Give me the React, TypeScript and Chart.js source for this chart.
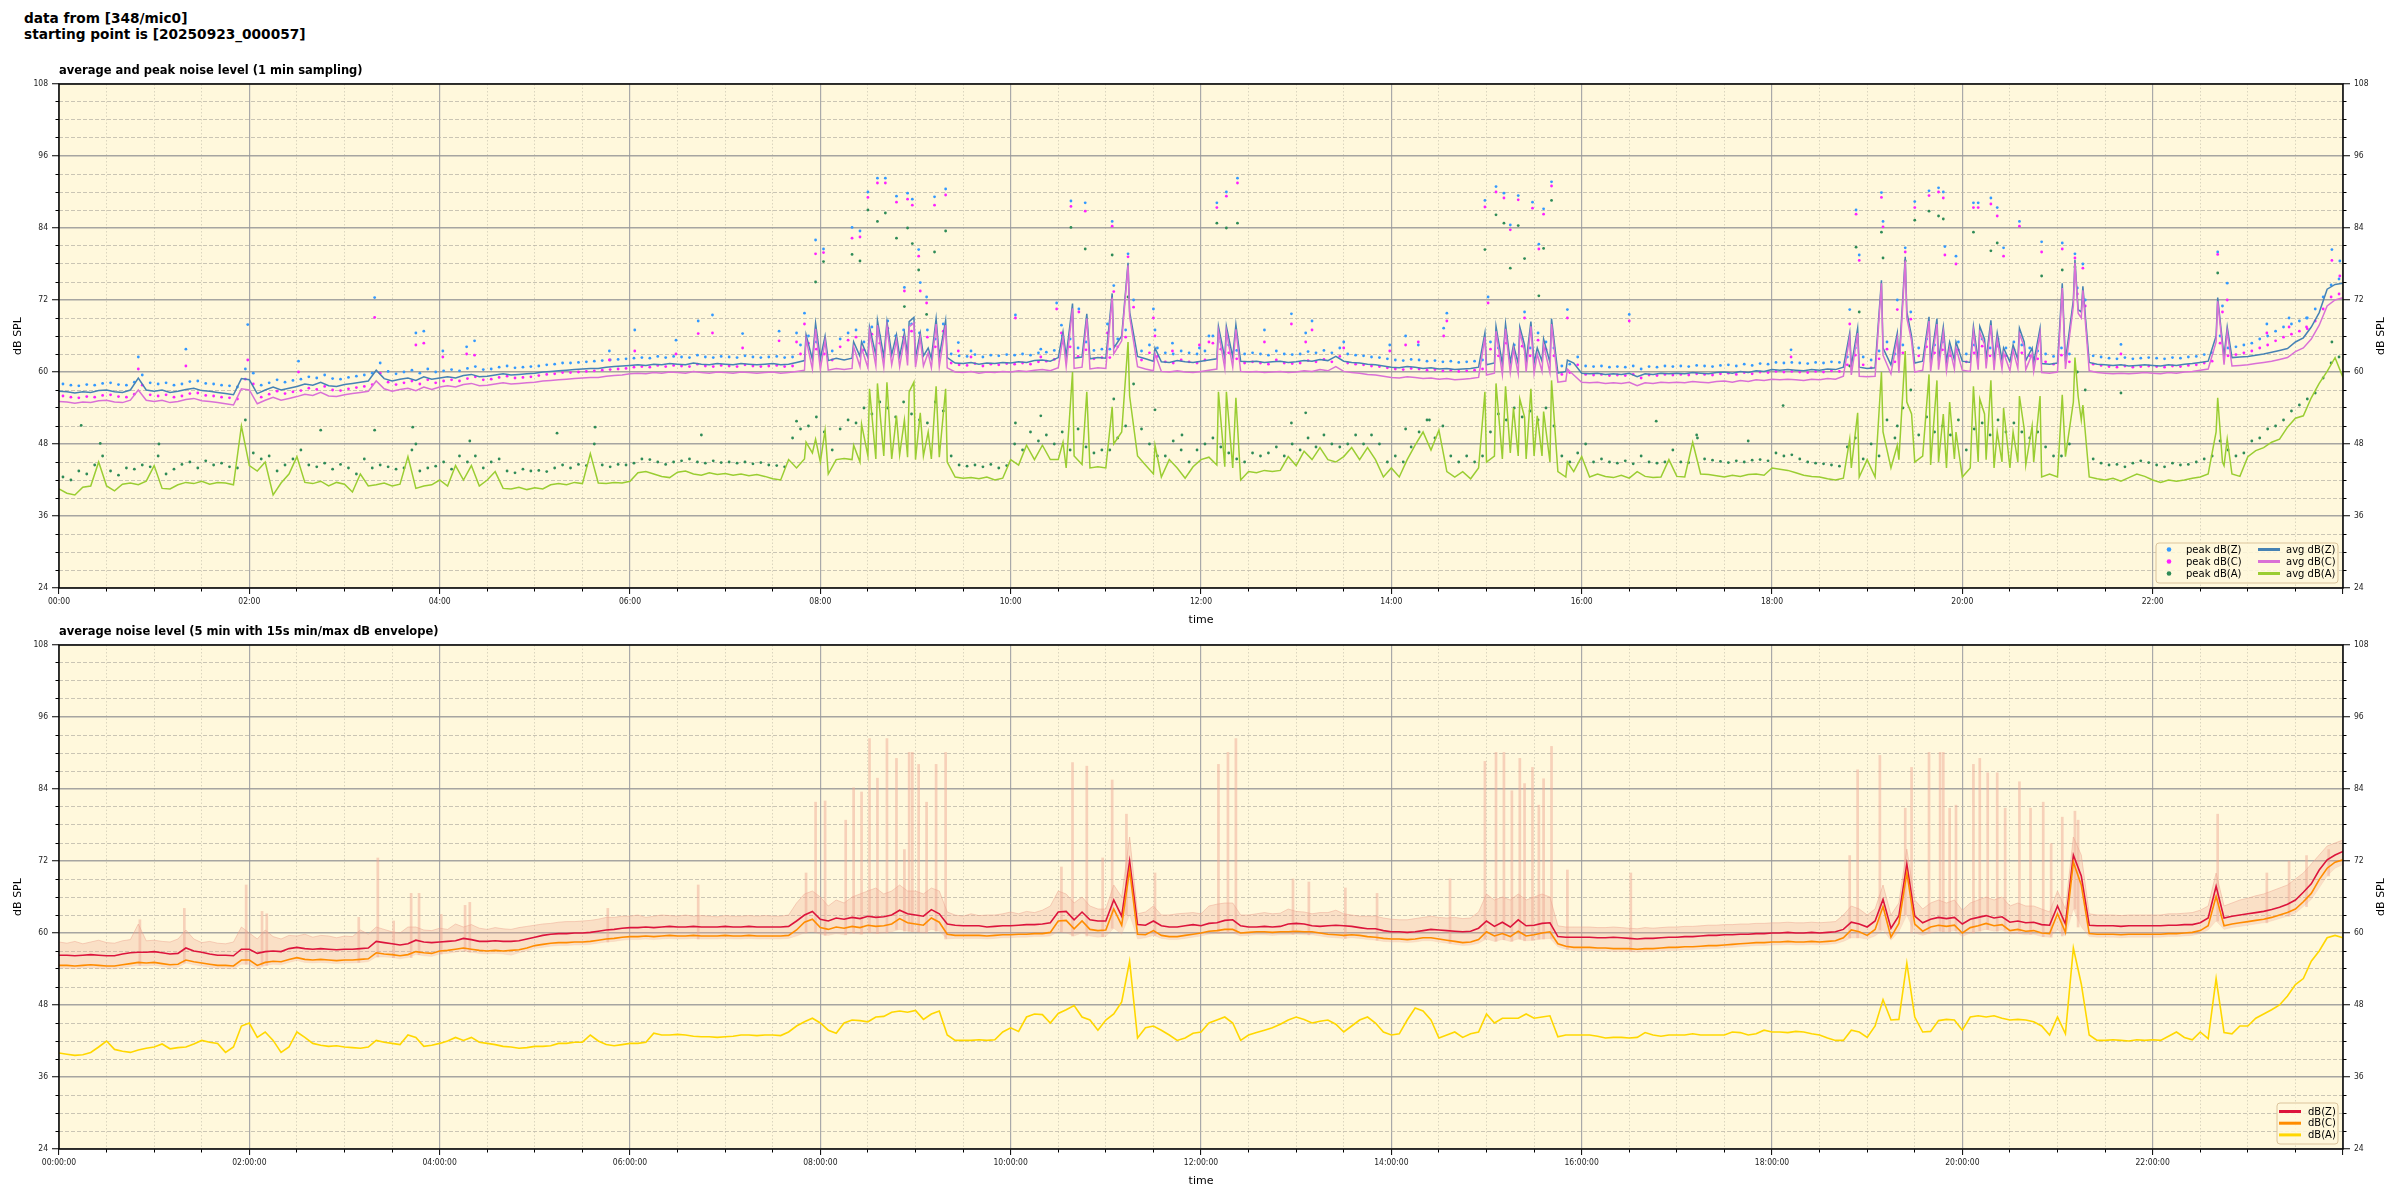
import React, { useEffect, useRef } from "react";
import { Chart, registerables } from "chart.js";

Chart.register(...registerables);

const TICK_FONT = "'DejaVu Sans Condensed', 'Liberation Sans Narrow', 'DejaVu Sans', sans-serif";
const TEXT_FONT = "'DejaVu Sans', 'Liberation Sans', sans-serif";
const PLOT_BG = "#fff8dc";
const STEP = 5;

const headerLines = ["data from [348/mic0]", "starting point is [20250923_000057]"];
const topTitle = "average and peak noise level (1 min sampling)";
const bottomTitle = "average noise level (5 min with 15s min/max dB envelope)";
const yTitle = "dB SPL";
const xTitle = "time";
const topTickLabels = ["00:00", "02:00", "04:00", "06:00", "08:00", "10:00", "12:00", "14:00", "16:00", "18:00", "20:00", "22:00"];
const bottomTickLabels = ["00:00:00", "02:00:00", "04:00:00", "06:00:00", "08:00:00", "10:00:00", "12:00:00", "14:00:00", "16:00:00", "18:00:00", "20:00:00", "22:00:00"];
const yTickLabels = [24, 36, 48, 60, 72, 84, 96, 108];

// ---------- top chart: 1-min averages, sampled every 5 minutes ----------
const avgZ = [
  56.8, 56.7, 56.5, 56.7, 56.6, 56.9, 57.0, 56.7, 56.6, 57.0, 59.0, 57.0,
  56.8, 57.0, 56.6, 56.8, 57.1, 57.3, 56.9, 56.8, 56.6, 56.4, 56.2, 58.9,
  58.7, 56.4, 57.0, 57.5, 57.0, 57.3, 57.6, 58.0, 57.8, 58.3, 57.7, 57.6,
  57.9, 58.1, 58.3, 58.5, 60.3, 58.9, 58.5, 58.8, 59.0, 58.6, 59.2, 58.8,
  59.0, 59.2, 59.0, 59.4, 59.6, 59.2, 59.3, 59.5, 59.7, 59.5, 59.6, 59.7,
  59.8, 60.0, 60.1, 60.2, 60.3, 60.4, 60.5, 60.6, 60.6, 60.8, 60.9, 61.0,
  61.1, 61.2, 61.1, 61.3, 61.2, 61.4, 61.3, 61.2, 61.5, 61.3, 61.2, 61.4,
  61.3, 61.2, 61.4, 61.3, 61.2, 61.3, 61.4, 61.2, 61.3, 61.6, 61.9, 62.1,
  62.2, 61.9, 62.3, 62.0, 62.3, 62.6, 62.4, 62.8, 62.5, 62.9, 62.6, 62.8,
  62.4, 62.7, 62.3, 62.6, 62.4, 61.5, 61.4, 61.6, 61.3, 61.5, 61.4, 61.6,
  61.5, 61.7, 61.6, 61.9, 62.0, 61.8, 62.4, 62.6, 62.3, 62.5, 62.2, 62.4,
  62.3, 64.0, 66.0, 70.0, 62.6, 62.2, 61.8, 61.7, 61.6, 61.9, 61.7, 61.6,
  61.8, 62.0, 62.2, 62.3, 62.5, 61.8, 61.7, 61.8, 61.6, 61.7, 61.8, 61.6,
  61.7, 61.9, 61.8, 62.1, 61.9, 62.6, 61.8, 61.6, 61.5, 61.3, 61.2, 61.0,
  60.8, 60.7, 60.9, 60.8, 60.6, 60.7, 60.5, 60.6, 60.4, 60.5, 60.6, 60.8,
  61.2, 61.5, 61.3, 61.6, 61.4, 61.7, 61.5, 61.8, 61.6, 59.8, 60.1, 61.5,
  59.8, 59.7, 59.8, 59.6, 59.7, 59.6, 59.8, 59.2, 59.7, 59.6, 59.8, 59.7,
  59.8, 59.7, 59.9, 59.8, 59.7, 59.9, 60.0, 59.8, 60.1, 59.9, 60.2, 60.1,
  60.4, 60.3, 60.4, 60.3, 60.2, 60.4, 60.3, 60.5, 60.4, 60.8, 61.0, 60.8,
  60.6, 60.7, 64.0, 61.2, 61.4, 70.0, 61.5, 61.8, 61.6, 61.9, 61.7, 62.0,
  61.8, 61.6, 61.9, 62.1, 61.8, 62.0, 61.7, 62.1, 61.9, 61.6, 61.4, 61.3,
  61.5, 61.8, 72.0, 70.0, 61.6, 61.3, 61.2, 61.1, 61.2, 61.0, 61.1, 61.2,
  61.1, 61.0, 61.2, 61.1, 61.3, 61.4, 61.6, 61.8, 66.0, 62.6, 62.4, 62.5,
  62.6, 62.8, 63.0, 63.3, 63.6, 63.9, 65.0, 65.7, 67.5, 69.9, 73.8, 74.6,
  74.8,
];
const avgC = [
  55.1, 55.0, 54.8, 55.0, 54.9, 55.2, 55.3, 55.0, 54.9, 55.3, 57.0, 55.3,
  55.1, 55.3, 54.9, 55.1, 55.4, 55.6, 55.2, 55.1, 54.9, 54.7, 54.5, 57.2,
  57.0, 54.7, 55.3, 55.8, 55.3, 55.6, 55.9, 56.3, 56.1, 56.6, 56.0, 55.9,
  56.2, 56.4, 56.6, 56.8, 58.5, 57.2, 56.8, 57.1, 57.3, 56.9, 57.5, 57.1,
  57.5, 57.7, 57.5, 57.9, 58.1, 57.7, 57.8, 58.0, 58.2, 58.0, 58.1, 58.2,
  58.3, 58.5, 58.6, 58.7, 58.8, 58.9, 59.0, 59.1, 59.1, 59.3, 59.4, 59.5,
  59.7, 59.8, 59.7, 59.9, 59.8, 60.0, 59.9, 59.8, 60.1, 59.9, 59.8, 60.0,
  59.9, 59.8, 60.0, 59.9, 59.8, 59.9, 60.0, 59.8, 59.9, 60.1, 60.3, 60.5,
  60.5, 60.3, 60.6, 60.4, 60.6, 60.9, 60.7, 61.0, 60.8, 61.2, 60.9, 61.1,
  60.8, 61.0, 60.7, 60.9, 60.7, 60.0, 59.9, 60.1, 59.8, 60.0, 59.9, 60.1,
  60.0, 60.2, 60.1, 60.3, 60.4, 60.2, 60.7, 60.9, 60.6, 60.8, 60.5, 60.7,
  60.6, 63.0, 65.2, 69.3, 60.9, 60.5, 60.2, 60.1, 60.0, 60.2, 60.0, 59.9,
  60.1, 60.3, 60.5, 60.6, 60.8, 60.1, 60.0, 60.1, 59.9, 60.0, 60.1, 59.9,
  60.0, 60.2, 60.1, 60.4, 60.2, 60.9, 60.1, 59.9, 59.8, 59.6, 59.5, 59.3,
  59.1, 59.0, 59.2, 59.1, 58.9, 59.0, 58.8, 58.9, 58.7, 58.8, 58.9, 59.1,
  59.5, 59.8, 59.6, 59.9, 59.7, 60.0, 59.8, 60.1, 59.9, 58.3, 58.5, 59.5,
  58.3, 58.2, 58.3, 58.1, 58.2, 58.1, 58.3, 57.7, 58.2, 58.1, 58.3, 58.2,
  58.3, 58.2, 58.4, 58.3, 58.2, 58.4, 58.5, 58.3, 58.6, 58.4, 58.7, 58.6,
  58.8, 58.7, 58.8, 58.7, 58.6, 58.8, 58.7, 58.9, 58.8, 59.3, 59.5, 59.3,
  59.2, 59.3, 62.8, 59.7, 59.9, 69.0, 60.0, 60.3, 60.1, 60.4, 60.2, 60.5,
  60.3, 60.1, 60.4, 60.6, 60.3, 60.5, 60.2, 60.6, 60.4, 60.1, 59.9, 59.8,
  60.0, 60.5, 71.0, 69.0, 60.2, 59.9, 59.8, 59.7, 59.8, 59.7, 59.8, 59.9,
  59.8, 59.7, 59.9, 59.8, 60.0, 60.1, 60.3, 60.5, 65.0, 61.2, 61.0, 61.1,
  61.2, 61.4, 61.6, 61.8, 62.1, 62.4, 63.4, 64.0, 65.5, 67.8, 71.0, 72.0,
  72.4,
];
const avgA = [
  40.5, 39.8, 39.5, 40.8, 41.0, 45.0, 41.0, 40.2, 41.3, 41.5, 41.2, 41.8,
  44.4, 40.6, 40.5, 41.2, 41.6, 41.4, 41.8, 41.3, 41.6, 41.5, 41.2, 51.0,
  44.4, 43.5, 45.0, 39.5, 41.5, 43.0, 45.9, 41.6, 41.4, 41.8, 41.0, 41.6,
  41.3, 40.0, 43.0, 41.0, 41.2, 41.5, 41.0, 41.3, 45.9, 40.6, 41.0, 41.2,
  42.0, 41.0, 44.4, 42.0, 44.4, 41.0, 42.0, 43.4, 40.6, 40.5, 40.8, 40.4,
  40.7, 40.5, 41.2, 41.4, 41.2, 41.6, 41.4, 46.4, 41.5, 41.4, 41.6, 41.5,
  41.8, 43.2, 43.4, 43.0, 42.6, 42.4, 43.3, 43.5, 43.0, 42.8, 43.2, 42.9,
  43.1, 42.8, 43.0, 42.7, 42.9, 42.6, 42.2, 42.0, 45.4, 44.0, 45.5, 46.5,
  45.0, 43.0, 45.4, 45.6, 45.4, 45.0, 46.0, 45.5, 46.0, 45.5, 46.2, 45.8,
  45.4, 46.0, 45.5, 45.8, 45.0, 42.5, 42.3, 42.4, 42.2, 42.5, 42.0, 42.3,
  45.4, 44.5, 47.8, 45.4, 47.8, 45.4, 45.4, 44.0, 46.0, 44.6, 44.0, 44.2,
  44.0, 48.0, 50.0, 56.0, 46.0, 44.5, 43.0, 42.5, 45.4, 44.0, 42.3, 44.2,
  45.4, 45.8, 44.5, 44.2, 44.0, 42.0, 43.4, 43.2, 43.6, 43.4, 43.6, 45.9,
  44.4, 46.8, 45.4, 47.4, 45.4, 45.0, 45.9, 47.4, 45.4, 47.4, 45.4, 42.5,
  44.0, 42.5, 45.4, 47.8, 50.0, 47.0, 50.3, 43.4, 42.5, 43.4, 42.2, 44.0,
  45.0, 46.0, 45.5, 46.5, 46.0, 45.5, 46.0, 46.0, 45.0, 43.4, 42.5, 43.4,
  45.9, 42.5, 43.0, 42.6, 42.4, 42.8, 42.3, 43.4, 42.6, 42.4, 42.5, 45.4,
  42.6, 42.5, 48.3, 43.0, 42.9, 42.7, 42.5, 42.8, 42.6, 42.9, 43.0, 42.8,
  44.0, 43.8, 43.6, 43.2, 42.8, 42.6, 42.5, 42.2, 42.0, 42.3, 44.0, 42.5,
  45.4, 42.5, 50.0, 44.0, 45.4, 55.0, 45.0, 46.0, 44.5, 45.0, 44.0, 45.5,
  42.5, 44.0, 45.0, 45.4, 44.0, 45.0, 44.0, 45.0, 44.5, 45.0, 42.5, 43.0,
  42.5, 45.9, 55.0, 52.0, 42.5, 42.2, 42.0, 42.3, 41.8, 42.4, 43.0, 42.6,
  42.0, 41.6, 42.0, 41.8, 42.0, 42.3, 42.5, 43.0, 50.0, 44.4, 43.0, 42.6,
  45.9, 46.9, 47.4, 48.3, 48.8, 50.8, 52.3, 52.7, 55.7, 58.1, 60.1, 62.4,
  59.1,
];

// short 1-min spikes of the average lines (minute of day and level)
const spikeT = [471, 477, 483, 501, 506, 511, 516, 522, 528, 533, 536, 539, 543, 548, 553, 559, 633, 639, 648, 664, 674, 691, 731, 736, 742, 899, 906, 912, 917, 921, 924, 928, 932, 936, 941, 951, 1129, 1134, 1149, 1159, 1164, 1168, 1179, 1184, 1188, 1192, 1196, 1207, 1211, 1214, 1218, 1222, 1226, 1232, 1236, 1239, 1244, 1249, 1263, 1271, 1273, 1276, 1361, 1364, 1367];
const spikeZ = [66.2, 68.1, 66.0, 65.0, 65.0, 67.5, 68.6, 68.4, 66.2, 66.5, 68.4, 69.1, 66.5, 64.0, 68.9, 68.6, 66.7, 71.4, 69.7, 73.1, 78.2, 64.0, 67.6, 67.6, 67.9, 66.5, 67.6, 68.0, 64.5, 67.5, 64.5, 68.4, 64.0, 65.5, 68.9, 62.0, 66.5, 67.3, 75.3, 66.5, 79.2, 66.0, 69.2, 68.9, 67.5, 65.0, 65.0, 67.6, 67.6, 65.5, 68.6, 66.5, 64.0, 64.5, 67.3, 65.0, 64.0, 67.3, 74.8, 78.7, 70.4, 74.3, 72.4, 65.0, 67.5];
const spikeC = [65.5, 67.2, 65.2, 64.2, 64.0, 66.8, 67.8, 67.6, 65.3, 65.6, 67.5, 68.2, 65.7, 63.2, 68.0, 67.8, 65.8, 70.6, 68.9, 72.4, 77.8, 63.0, 66.8, 66.8, 67.1, 65.8, 66.8, 67.2, 63.8, 66.7, 63.5, 67.6, 63.0, 64.5, 68.0, 60.5, 65.8, 66.5, 74.8, 65.6, 78.6, 65.2, 68.5, 68.0, 66.6, 64.0, 64.0, 66.8, 66.6, 64.6, 67.8, 65.5, 63.2, 63.6, 66.4, 64.2, 63.0, 66.4, 74.0, 78.2, 69.8, 73.6, 71.8, 64.2, 66.8];
const spikeA = [48.3, 48.8, 50.3, 47.8, 51.3, 57.2, 58.1, 58.3, 52.7, 52.0, 56.7, 58.3, 53.2, 50.0, 57.6, 57.2, 48.3, 60.0, 56.7, 54.2, 65.0, 47.8, 56.7, 56.7, 55.7, 56.7, 58.1, 57.6, 54.0, 55.5, 52.5, 57.2, 52.7, 53.4, 58.6, 45.0, 48.8, 53.2, 60.0, 47.8, 63.5, 53.0, 59.6, 58.6, 53.0, 55.0, 50.0, 57.6, 55.5, 53.0, 58.6, 50.0, 54.0, 50.0, 56.0, 50.5, 51.0, 56.0, 56.2, 62.4, 56.0, 54.5, 55.7, 45.0, 48.8];

// peak levels (one dot every 5 minutes, at the middle of each interval)
const peakZ = [
  58.0, 57.8, 57.7, 57.9, 57.8, 58.1, 58.2, 57.9, 57.8, 58.3, 59.5, 58.2,
  58.0, 58.2, 57.8, 58.0, 58.4, 58.5, 58.1, 58.0, 57.8, 57.7, 57.5, 60.5,
  59.8, 57.8, 58.2, 58.7, 58.3, 58.6, 58.8, 59.2, 59.0, 59.5, 58.9, 58.8,
  59.1, 59.3, 59.5, 59.8, 61.5, 60.1, 59.7, 60.0, 60.3, 59.8, 60.5, 60.0,
  60.2, 60.4, 60.2, 60.6, 60.9, 60.4, 60.5, 60.8, 61.0, 60.7, 60.8, 60.9,
  61.0, 61.2, 61.3, 61.5, 61.5, 61.6, 61.7, 61.8, 61.9, 62.0, 62.1, 62.2,
  62.3, 62.4, 62.3, 62.6, 62.4, 62.6, 62.5, 62.4, 62.8, 62.5, 62.4, 62.6,
  62.5, 62.4, 62.7, 62.5, 62.4, 62.5, 62.6, 62.4, 62.5, 64.5, 66.0, 65.0,
  64.5, 63.5, 65.5, 66.5, 67.0, 65.0, 67.5, 66.0, 68.5, 66.0, 67.0, 68.0,
  66.5, 67.0, 65.5, 68.0, 63.0, 62.7, 62.6, 62.9, 62.5, 62.8, 62.7, 62.9,
  62.8, 63.0, 62.8, 63.2, 63.3, 63.6, 66.0, 65.5, 64.0, 65.0, 63.6, 63.8,
  63.8, 65.5, 67.0, 72.0, 63.5, 64.5, 64.0, 63.2, 63.0, 63.5, 63.2, 63.0,
  63.5, 66.0, 65.0, 64.5, 63.6, 63.0, 63.2, 63.0, 62.8, 63.5, 63.0, 62.9,
  63.0, 63.4, 63.2, 63.6, 63.2, 64.0, 63.0, 62.8, 62.7, 62.5, 62.4, 62.2,
  62.0, 61.9, 62.1, 62.0, 61.8, 61.9, 61.7, 61.8, 61.6, 61.7, 61.8, 62.0,
  65.0, 64.0, 66.0, 64.5, 65.5, 64.0, 66.5, 65.0, 64.0, 61.0, 61.3, 62.5,
  61.0, 60.9, 61.0, 60.8, 60.9, 60.8, 61.0, 60.5, 60.9, 60.8, 61.0, 60.9,
  61.0, 60.9, 61.1, 61.0, 60.9, 61.1, 61.2, 61.0, 61.3, 61.1, 61.4, 61.3,
  61.6, 61.5, 61.6, 61.5, 61.4, 61.6, 61.5, 61.7, 61.6, 62.5, 64.0, 62.5,
  62.0, 63.5, 65.0, 63.0, 64.5, 70.0, 64.0, 65.5, 64.5, 65.0, 64.0, 65.0,
  63.0, 64.5, 65.5, 64.0, 65.5, 64.0, 65.0, 64.5, 64.0, 63.5, 63.0, 62.6,
  64.0, 63.0, 74.0, 72.0, 62.7, 62.5, 62.3, 62.2, 62.4, 62.2, 62.3, 62.4,
  62.3, 62.2, 62.4, 62.3, 62.5, 62.6, 62.9, 63.2, 66.0, 64.0, 64.2, 64.5,
  64.8, 65.5, 66.0, 66.8, 67.5, 68.0, 68.5, 69.0, 70.5, 72.5, 74.5, 75.5,
];
const peakC = [
  56.0, 55.8, 55.7, 55.9, 55.8, 56.1, 56.2, 55.9, 55.8, 56.3, 57.8, 56.2,
  56.0, 56.2, 55.8, 56.0, 56.4, 56.5, 56.1, 56.0, 55.8, 55.7, 55.5, 58.8,
  58.0, 55.8, 56.3, 56.8, 56.4, 56.7, 56.9, 57.3, 57.1, 57.6, 57.0, 56.9,
  57.2, 57.4, 57.6, 57.9, 59.8, 58.3, 57.9, 58.2, 58.5, 58.0, 58.7, 58.2,
  58.5, 58.7, 58.5, 58.9, 59.2, 58.7, 58.8, 59.1, 59.3, 59.0, 59.1, 59.2,
  59.4, 59.6, 59.7, 59.9, 59.9, 60.0, 60.1, 60.2, 60.3, 60.4, 60.5, 60.6,
  60.8, 60.9, 60.8, 61.1, 60.9, 61.1, 61.0, 60.9, 61.3, 61.0, 60.9, 61.1,
  61.0, 60.9, 61.2, 61.0, 60.9, 61.0, 61.1, 60.9, 61.0, 63.0, 64.8, 63.8,
  63.0, 62.0, 64.2, 65.3, 65.8, 63.7, 66.3, 64.8, 67.3, 64.8, 65.8, 66.8,
  65.2, 65.8, 64.2, 66.8, 61.5, 61.2, 61.1, 61.4, 61.0, 61.3, 61.2, 61.4,
  61.3, 61.5, 61.3, 61.7, 61.8, 62.1, 64.8, 64.2, 62.6, 63.7, 62.2, 62.4,
  62.4, 64.2, 65.8, 70.8, 62.0, 63.2, 62.6, 61.7, 61.5, 62.0, 61.7, 61.5,
  62.0, 64.8, 63.8, 63.2, 62.2, 61.5, 61.7, 61.5, 61.3, 62.0, 61.5, 61.4,
  61.5, 61.9, 61.7, 62.1, 61.7, 62.6, 61.5, 61.3, 61.2, 61.0, 60.9, 60.7,
  60.5, 60.4, 60.6, 60.5, 60.3, 60.4, 60.2, 60.3, 60.1, 60.2, 60.3, 60.5,
  63.8, 62.7, 64.8, 63.2, 64.3, 62.7, 65.3, 63.8, 62.7, 59.6, 59.9, 61.2,
  59.6, 59.5, 59.6, 59.4, 59.5, 59.4, 59.6, 59.0, 59.5, 59.4, 59.6, 59.5,
  59.6, 59.5, 59.7, 59.6, 59.5, 59.7, 59.8, 59.6, 59.9, 59.7, 60.0, 59.9,
  60.1, 60.0, 60.1, 60.0, 59.9, 60.1, 60.0, 60.2, 60.1, 61.2, 62.8, 61.2,
  60.7, 62.2, 63.8, 61.7, 63.2, 68.8, 62.7, 64.2, 63.2, 63.7, 62.7, 63.7,
  61.7, 63.2, 64.3, 62.7, 64.3, 62.7, 63.8, 63.2, 62.7, 62.2, 61.7, 61.3,
  62.8, 61.7, 73.0, 71.0, 61.3, 61.1, 60.9, 60.8, 61.0, 60.8, 60.9, 61.0,
  60.9, 60.8, 61.0, 60.9, 61.1, 61.2, 61.5, 61.8, 64.8, 62.7, 62.9, 63.2,
  63.5, 64.0, 64.5, 65.2, 65.8, 66.3, 66.8, 67.2, 68.5, 70.5, 72.5, 73.0,
];
const peakA = [
  42.5, 42.0, 43.5, 43.0, 44.5, 46.0, 43.5, 42.8, 44.0, 43.8, 44.5, 44.2,
  46.0, 43.0, 43.8, 44.6, 45.0, 44.0, 45.2, 44.5, 44.8, 44.2, 44.0, 52.0,
  46.5, 45.5, 46.0, 43.5, 44.5, 45.5, 47.0, 44.5, 44.2, 44.8, 43.8, 44.6,
  44.0, 43.0, 45.5, 44.0, 44.5, 44.2, 43.8, 44.0, 47.0, 43.5, 44.0, 44.3,
  45.0, 43.8, 46.0, 45.0, 46.0, 44.0, 45.0, 45.5, 43.5, 43.2, 43.8, 43.5,
  43.6, 43.4, 44.0, 44.5, 44.0, 44.6, 44.4, 48.0, 44.5, 44.2, 44.6, 44.5,
  44.8, 45.5, 45.4, 45.0, 44.6, 45.0, 45.2, 45.5, 45.0, 44.8, 45.2, 44.9,
  45.0, 44.8, 45.0, 44.7, 44.9, 44.5, 44.4, 44.2, 49.0, 50.5, 51.0, 52.5,
  50.0, 47.0, 50.5, 52.0, 51.5, 54.0, 53.0, 55.0, 54.0, 52.5, 55.0, 53.0,
  52.0, 51.5, 55.0, 53.5, 46.0, 44.5, 44.3, 44.5, 44.2, 44.6, 44.0, 44.4,
  48.0, 47.0, 50.0, 48.5, 49.5, 48.0, 50.0, 47.0, 50.5, 47.5, 46.5, 47.0,
  47.0, 49.0, 51.0, 58.0, 50.5, 48.0, 46.0, 46.0, 48.5, 47.0, 45.0, 47.0,
  48.0, 49.0, 47.5, 46.5, 45.5, 45.0, 46.5, 46.0, 46.5, 47.5, 46.0, 48.0,
  47.0, 49.0, 47.5, 49.5, 48.0, 47.5, 48.0, 49.5, 48.0, 49.5, 48.0, 45.0,
  46.0, 45.0, 47.5, 50.0, 52.0, 49.0, 51.0, 46.0, 45.0, 46.0, 45.0, 46.0,
  50.0, 53.0, 52.0, 54.0, 52.5, 53.5, 52.0, 54.0, 51.0, 46.0, 45.0, 46.5,
  48.0, 45.0, 45.5, 45.0, 44.8, 45.2, 44.7, 46.0, 45.0, 44.8, 45.0, 47.0,
  45.0, 44.9, 49.5, 45.5, 45.3, 45.1, 44.9, 45.2, 45.0, 45.3, 45.4, 45.2,
  46.5, 46.0, 46.2, 45.5, 45.0, 44.8, 44.7, 44.5, 44.3, 47.5, 49.0, 45.5,
  48.0, 46.0, 52.0, 49.0, 54.0, 57.0, 49.5, 52.5, 50.0, 51.0, 49.5, 52.0,
  47.0, 50.5, 51.5, 49.5, 52.0, 50.0, 51.5, 50.0, 49.0, 50.0, 47.5, 46.0,
  46.0, 48.0, 60.0, 57.0, 45.5, 44.8, 44.5, 44.6, 44.2, 44.8, 45.2, 44.9,
  44.5, 44.2, 44.8, 44.5, 44.6, 45.0, 45.5, 46.0, 48.5, 47.0, 46.0, 46.5,
  48.5, 49.0, 50.5, 51.0, 52.0, 53.5, 54.5, 55.5, 56.5, 59.0, 61.5, 62.5,
];
// isolated high peak readings (minute of day; null = no outlier for that weighting)
const outT = [14, 26, 50, 63, 80, 119, 151, 165, 199, 223, 225, 230, 242, 257, 259, 262, 314, 338, 347, 363, 389, 403, 405, 412, 431, 454, 465, 470, 477, 482, 500, 505, 510, 516, 521, 528, 533, 535, 538, 542, 543, 547, 552, 559, 567, 575, 603, 619, 629, 632, 638, 643, 647, 661, 664, 665, 674, 690, 691, 702, 708, 719, 725, 730, 736, 743, 760, 777, 786, 790, 810, 839, 849, 857, 864, 873, 875, 899, 901, 906, 911, 915, 920, 924, 929, 933, 936, 941, 951, 990, 1007, 1033, 1065, 1087, 1092, 1129, 1133, 1135, 1149, 1150, 1159, 1164, 1170, 1179, 1185, 1188, 1189, 1196, 1207, 1210, 1218, 1222, 1226, 1236, 1250, 1263, 1271, 1276, 1300, 1361, 1364, 1367, 1392, 1406, 1417, 1433, 1438];
const outZ = [null, null, 62.5, null, 63.8, 67.9, 61.8, null, 72.4, null, 66.5, 66.8, 63.5, 64.2, null, 65.2, null, null, 63.5, 67.0, 65.3, 68.5, null, 69.5, 66.4, 66.8, 66.5, 69.8, 82.0, 80.5, 84.1, 83.5, 90.0, 92.3, 92.3, 89.3, 74.1, 89.8, 88.8, 80.4, 74.9, 72.5, 89.2, 90.5, 64.9, 63.5, 69.5, 63.8, 71.5, 67.8, 88.5, 70.5, 88.2, 68.0, 85.1, 74.4, 79.7, 70.5, 67.0, 64.8, null, 64.0, 66.0, 88.2, 90.0, 92.3, 67.0, 69.7, 66.5, 68.5, 65.0, 64.5, 66.0, 64.5, null, 67.3, 69.8, 88.6, 72.5, 90.9, 89.8, 84.5, 89.4, 70.0, 88.3, 81.3, 87.2, 91.7, 70.4, 69.6, null, null, null, null, 63.7, 70.4, 87.0, 79.5, 89.9, 85.1, 72.0, 80.7, 88.4, 90.2, 90.7, 90.0, 80.9, 79.3, 88.2, 88.2, 89.0, 87.4, 80.7, 85.1, 81.7, 81.5, 79.7, 78.0, 64.6, 80.0, 71.0, 74.8, 68.0, 69.0, 69.0, 80.4, 78.5];
const outC = [null, null, 60.5, null, 61.0, 62.0, 60.0, null, 69.1, null, 64.5, 64.8, 62.5, 63.0, null, 62.8, null, null, 62.0, 63.5, 63.0, 66.4, null, 66.5, 64.0, 65.2, 65.0, 68.0, 79.7, 79.9, 82.3, 82.5, 89.1, 91.5, 91.5, 88.3, 73.5, 88.8, 87.8, 79.3, 73.5, 71.5, 87.8, 89.5, 63.5, 62.5, 69.0, 62.5, 70.5, 66.5, 87.6, 70.0, 86.8, 66.5, 84.3, 73.4, 79.2, 69.0, 66.0, 63.5, null, 64.5, 65.0, 87.4, 89.3, 91.5, 65.0, 68.0, 65.0, 67.0, 64.0, 63.5, 64.5, 65.0, null, 66.0, 68.5, 87.5, 71.5, 90.0, 89.0, 83.7, 88.7, 69.0, 87.3, 80.5, 86.3, 91.0, 69.0, 68.5, null, null, null, null, 62.5, 68.0, 86.3, 78.6, 89.1, 84.2, 70.4, 80.0, 87.4, 89.4, 90.0, 89.0, 79.5, 78.0, 87.4, 87.4, 88.0, 86.0, 79.3, 84.3, 80.0, 80.5, 79.0, 77.3, 63.0, 79.6, 70.0, 72.0, 66.5, 67.5, 67.5, 78.6, 76.0];
const outA = [51.1, 48.1, null, 48.0, null, null, null, 50.3, 50.3, 50.8, 48.0, null, null, null, 48.5, null, 49.8, 50.8, null, null, null, null, 49.5, null, null, null, 51.8, null, 75.0, 78.4, 79.6, 78.5, 87.0, 85.1, 86.5, 82.3, 70.9, 84.0, 81.4, 77.0, null, 69.6, 80.0, 83.5, null, null, 51.5, 52.7, null, null, 84.1, null, 80.5, null, 79.5, 55.5, 72.5, null, 53.7, null, 49.5, null, null, 84.8, 84.0, 84.8, null, 51.5, 53.2, null, null, null, 50.5, null, 52.0, null, null, 80.4, null, 86.2, 84.8, 77.3, 84.4, 78.9, null, 72.7, 80.6, 88.6, null, null, 51.8, 49.0, 48.5, 54.4, null, 61.0, 80.8, 70.0, 83.3, 79.0, 51.0, 78.5, 85.3, 86.8, 86.0, 85.5, null, null, 83.3, null, 80.2, 81.5, null, null, 76.0, 77.0, 77.5, null, 56.5, 76.5, null, null, null, null, null, 65.0, null];

// ---------- bottom chart: 5-min averages ----------
const lvlZ = [
  56.3, 56.3, 56.2, 56.3, 56.4, 56.3, 56.2, 56.2, 56.5, 56.7, 56.8, 56.8,
  56.9, 56.7, 56.5, 56.6, 57.5, 57.0, 56.8, 56.5, 56.3, 56.3, 56.2, 57.3,
  57.3, 56.6, 56.9, 57.0, 56.9, 57.4, 57.6, 57.4, 57.3, 57.4, 57.3, 57.2,
  57.3, 57.3, 57.4, 57.5, 58.6, 58.4, 58.2, 58.0, 58.2, 58.8, 58.5, 58.4,
  58.5, 58.6, 58.7, 59.1, 58.9, 58.6, 58.6, 58.7, 58.6, 58.6, 58.7, 59.0,
  59.3, 59.6, 59.8, 59.9, 59.9, 60.0, 60.0, 60.1, 60.3, 60.5, 60.6, 60.8,
  60.9, 60.9, 61.0, 60.9, 61.0, 61.1, 61.0, 61.0, 61.1, 61.0, 61.0, 61.0,
  61.1, 61.0, 61.0, 61.1, 61.0, 61.0, 61.0, 61.0, 61.1, 62.0, 63.0, 63.6,
  62.3, 62.0, 62.5, 62.3, 62.6, 62.4, 62.8, 62.6, 62.7, 63.0, 63.8, 63.2,
  63.0, 62.8, 63.9, 63.2, 61.5, 61.3, 61.2, 61.2, 61.2, 61.0, 61.1, 61.2,
  61.2, 61.3, 61.4, 61.4, 61.5, 61.7, 63.5, 63.6, 62.2, 63.5, 62.2, 62.0,
  62.0, 65.5, 62.8, 72.0, 61.4, 61.3, 62.0, 61.2, 61.0, 61.0, 61.2, 61.4,
  61.2, 61.6, 61.7, 62.1, 62.2, 61.2, 61.0, 61.0, 61.1, 61.0, 61.1, 61.5,
  61.6, 61.5, 61.2, 61.1, 61.2, 61.3, 61.2, 61.1, 60.9, 60.7, 60.7, 60.4,
  60.2, 60.2, 60.1, 60.2, 60.4, 60.6, 60.5, 60.4, 60.3, 60.2, 60.3, 60.8,
  62.0, 61.1, 61.8, 61.0, 62.2, 61.2, 61.3, 61.6, 61.7, 59.4, 59.3, 59.3,
  59.3, 59.3, 59.2, 59.2, 59.3, 59.2, 59.1, 59.0, 59.1, 59.1, 59.2, 59.3,
  59.3, 59.4, 59.4, 59.5, 59.6, 59.6, 59.7, 59.7, 59.8, 59.8, 59.9, 59.9,
  60.0, 60.0, 60.1, 60.0, 60.0, 60.1, 60.0, 60.1, 60.2, 60.6, 61.8, 61.5,
  61.0, 62.0, 65.6, 60.8, 62.9, 71.5, 62.8, 61.7, 62.3, 62.6, 62.4, 62.6,
  61.5, 62.3, 62.6, 62.9, 62.5, 62.7, 61.8, 62.0, 61.7, 61.8, 61.4, 61.3,
  64.5, 61.5, 73.0, 69.5, 61.3, 61.2, 61.2, 61.2, 61.1, 61.2, 61.2, 61.2,
  61.2, 61.2, 61.3, 61.3, 61.4, 61.4, 61.7, 62.5, 67.8, 62.5, 62.8, 63.0,
  63.2, 63.4, 63.6, 63.9, 64.3, 64.8, 65.5, 66.8, 68.2, 70.5, 72.2, 73.0,
  73.6,
];
const lvlC = [
  54.6, 54.6, 54.5, 54.6, 54.7, 54.6, 54.5, 54.5, 54.7, 54.9, 55.1, 55.0,
  55.1, 54.9, 54.7, 54.8, 55.5, 55.2, 55.0, 54.8, 54.6, 54.6, 54.5, 55.5,
  55.5, 54.6, 55.1, 55.3, 55.2, 55.6, 55.9, 55.6, 55.5, 55.6, 55.5, 55.4,
  55.5, 55.5, 55.6, 55.7, 56.7, 56.5, 56.4, 56.2, 56.4, 56.9, 56.7, 56.6,
  57.0, 57.1, 57.3, 57.5, 57.3, 57.1, 57.0, 57.1, 57.0, 57.1, 57.2, 57.5,
  57.9, 58.1, 58.3, 58.4, 58.4, 58.5, 58.5, 58.6, 58.8, 59.0, 59.1, 59.3,
  59.4, 59.4, 59.5, 59.4, 59.5, 59.6, 59.5, 59.5, 59.6, 59.5, 59.5, 59.5,
  59.6, 59.5, 59.5, 59.6, 59.5, 59.5, 59.5, 59.5, 59.6, 60.5, 61.8, 62.3,
  60.9, 60.6, 61.0, 60.8, 61.1, 60.9, 61.3, 61.1, 61.2, 61.5, 62.4, 61.7,
  61.5, 61.3, 62.5, 61.8, 59.8, 59.6, 59.6, 59.6, 59.6, 59.5, 59.6, 59.7,
  59.7, 59.8, 59.8, 59.9, 59.9, 60.1, 62.0, 62.1, 60.7, 62.0, 60.6, 60.4,
  60.5, 64.0, 61.3, 70.5, 59.8, 59.7, 60.4, 59.6, 59.4, 59.4, 59.6, 59.8,
  60.0, 60.3, 60.4, 60.6, 60.6, 60.0, 60.1, 60.2, 60.2, 60.1, 60.2, 60.2,
  60.3, 60.2, 60.2, 60.0, 59.8, 59.7, 59.6, 59.7, 59.6, 59.4, 59.3, 59.1,
  59.0, 59.0, 58.9, 59.0, 59.2, 59.2, 59.0, 58.8, 58.6, 58.4, 58.5, 58.9,
  60.2, 59.5, 59.9, 59.4, 60.3, 59.5, 59.7, 60.0, 60.2, 58.2, 57.8, 57.6,
  57.6, 57.6, 57.5, 57.5, 57.4, 57.4, 57.4, 57.3, 57.4, 57.4, 57.5, 57.6,
  57.6, 57.7, 57.7, 57.8, 57.9, 57.9, 58.0, 58.1, 58.2, 58.3, 58.4, 58.4,
  58.5, 58.5, 58.6, 58.5, 58.5, 58.6, 58.5, 58.6, 58.7, 59.2, 60.5, 60.2,
  59.6, 60.6, 64.4, 59.3, 61.6, 70.0, 61.5, 60.3, 61.0, 61.3, 61.1, 61.3,
  60.0, 60.9, 61.2, 61.6, 61.2, 61.4, 60.4, 60.6, 60.3, 60.4, 60.0, 59.9,
  63.2, 60.1, 71.8, 68.0, 59.9, 59.8, 59.8, 59.8, 59.7, 59.8, 59.8, 59.8,
  59.8, 59.8, 59.9, 59.9, 60.0, 60.1, 60.4, 61.2, 66.1, 61.2, 61.5, 61.7,
  61.9, 62.1, 62.3, 62.6, 63.0, 63.4, 64.0, 65.2, 66.6, 68.9, 70.8, 71.8,
  72.2,
];
const lvlA = [
  40.0, 39.8, 39.6, 39.7, 40.1, 41.0, 42.0, 40.6, 40.3, 40.1, 40.5, 40.8,
  41.0, 41.5, 40.7, 40.9, 41.0, 41.5, 42.1, 41.8, 41.6, 40.1, 41.0, 44.5,
  45.0, 42.6, 43.5, 42.1, 40.1, 41.0, 43.5, 42.6, 41.6, 41.3, 41.1, 41.2,
  41.0, 40.9, 40.8, 41.0, 42.1, 41.8, 41.6, 41.4, 43.0, 42.6, 41.1, 41.3,
  41.6, 42.0, 42.6, 42.1, 42.6, 41.8, 41.6, 41.4, 41.1, 41.0, 40.8, 40.9,
  41.1, 41.1, 41.2, 41.6, 41.6, 41.8, 41.8, 43.0, 42.0, 41.4, 41.2, 41.4,
  41.6, 41.6, 41.8, 43.3, 43.0, 43.0, 43.1, 43.0, 42.8, 42.7, 42.7, 42.6,
  42.7, 42.8, 43.0, 43.0, 42.9, 43.0, 43.0, 42.9, 43.5, 44.5, 45.2, 45.8,
  45.0, 43.8, 43.3, 45.0, 45.5, 45.4, 45.2, 46.0, 46.1, 46.8, 47.0, 46.8,
  47.1, 45.6, 46.5, 47.0, 43.0, 42.1, 42.1, 42.1, 42.2, 42.1, 42.2, 43.5,
  44.2, 43.6, 46.0, 46.5, 46.4, 45.0, 46.6, 47.2, 47.9, 46.0, 45.5, 43.8,
  45.5, 46.5, 48.5, 55.3, 42.5, 44.2, 44.5, 43.8, 43.0, 42.1, 42.5, 43.3,
  43.5, 45.0, 45.5, 46.0, 45.0, 42.1, 43.0, 43.4, 43.8, 44.2, 44.8, 45.5,
  46.0, 45.6, 45.0, 45.3, 45.5, 44.8, 43.5, 44.5, 45.5, 46.0, 45.0, 43.5,
  43.0, 43.2, 45.5, 47.5, 47.0, 45.5, 42.5, 43.0, 43.5, 42.6, 43.2, 43.5,
  46.5, 45.0, 45.8, 45.8, 45.8, 46.5, 45.8, 46.0, 46.2, 42.7, 43.0, 43.0,
  43.0, 43.0, 42.8, 42.5, 42.6, 42.6, 42.5, 42.6, 43.4, 43.0, 42.8, 43.0,
  43.0, 43.0, 43.2, 43.0, 43.0, 43.0, 43.0, 43.5, 43.4, 43.0, 43.2, 43.8,
  43.5, 43.5, 43.4, 43.6, 43.5, 43.2, 43.0, 42.5, 42.1, 42.1, 43.8, 43.5,
  42.6, 44.5, 48.9, 45.5, 45.6, 55.0, 46.0, 43.5, 43.6, 45.4, 45.6, 45.5,
  43.8, 46.0, 46.2, 46.0, 46.2, 45.8, 45.5, 45.6, 45.5, 45.2, 44.5, 43.0,
  46.0, 43.2, 57.5, 51.5, 43.0, 42.1, 42.1, 42.2, 42.1, 42.0, 42.2, 42.1,
  42.2, 42.1, 42.8, 43.5, 42.6, 42.2, 43.5, 42.4, 52.4, 43.4, 43.2, 44.5,
  44.5, 45.8, 46.5, 47.2, 48.0, 49.5, 51.4, 52.4, 55.3, 57.0, 59.2, 59.6,
  59.2,
];
// 15 s min/max envelope
const envMax = [
  58.5, 58.3, 58.6, 58.2, 58.5, 58.8, 58.4, 58.3, 58.7, 58.9, 61.5, 58.7,
  58.8, 58.6, 58.5, 59.0, 60.5, 59.0, 58.4, 58.6, 58.3, 58.2, 58.5, 61.0,
  60.0, 59.0, 60.5, 59.4, 59.0, 59.6, 59.5, 59.8, 59.3, 59.6, 59.5, 59.2,
  59.5, 59.4, 60.5, 59.8, 61.0, 60.6, 60.2, 60.0, 61.0, 61.0, 60.5, 60.4,
  60.8, 60.6, 61.5, 61.0, 61.4, 60.8, 60.6, 60.9, 60.7, 60.6, 60.9, 61.1,
  61.3, 61.5, 61.6, 61.8, 61.9, 61.9, 62.0, 62.1, 62.3, 62.6, 62.6, 62.8,
  62.8, 63.0, 62.6, 62.8, 63.0, 62.9, 62.8, 63.0, 62.8, 62.9, 62.8, 62.7,
  62.9, 62.8, 62.8, 62.9, 62.8, 62.9, 62.8, 62.8, 63.0, 65.0, 66.5, 67.0,
  66.0, 64.5, 65.5, 65.0, 66.0, 66.5, 67.0, 67.5, 66.5, 67.0, 68.0, 67.0,
  67.0, 66.5, 67.5, 67.0, 63.5, 63.0, 62.8, 63.2, 62.9, 63.0, 63.0, 63.2,
  63.5, 63.2, 63.6, 63.4, 63.8, 64.5, 67.0, 66.5, 65.0, 66.0, 64.5, 64.0,
  64.0, 68.0, 66.0, 76.0, 63.2, 63.5, 64.5, 63.0, 63.0, 63.2, 63.3, 63.4,
  63.2, 64.5, 64.8, 65.0, 65.0, 63.0, 63.0, 63.2, 63.4, 63.2, 63.3, 64.0,
  63.6, 63.5, 63.2, 63.4, 63.4, 63.8, 63.2, 63.0, 62.8, 62.8, 62.8, 62.5,
  62.3, 62.2, 62.2, 62.4, 62.6, 62.8, 62.6, 62.5, 62.6, 62.4, 62.5, 63.5,
  66.5, 65.5, 66.0, 65.5, 66.5, 65.5, 66.0, 66.5, 66.0, 61.2, 61.0, 61.0,
  61.0, 61.0, 60.9, 60.9, 61.0, 60.9, 60.8, 60.7, 60.9, 60.8, 60.9, 61.0,
  61.0, 61.1, 61.1, 61.2, 61.3, 61.3, 61.4, 61.4, 61.5, 61.5, 61.6, 61.6,
  61.7, 61.7, 61.8, 61.7, 61.7, 61.8, 61.7, 61.8, 61.9, 63.0, 64.5, 64.0,
  63.0, 64.0, 68.0, 63.0, 65.0, 74.0, 65.5, 64.0, 65.0, 65.5, 65.0, 65.5,
  63.8, 65.0, 65.5, 66.0, 65.5, 66.0, 64.5, 65.0, 64.5, 64.5, 64.0, 63.5,
  67.0, 64.0, 76.0, 73.0, 63.2, 63.0, 63.0, 63.0, 62.9, 63.0, 63.0, 63.0,
  63.0, 63.0, 63.2, 63.2, 63.3, 63.4, 63.8, 64.5, 70.0, 64.5, 65.0, 65.5,
  65.8, 66.2, 66.5, 67.0, 67.5, 68.0, 69.0, 70.0, 71.5, 73.0, 74.5, 75.0,
  75.5,
];
const envMin = [
  54.2, 54.1, 54.0, 54.2, 54.2, 54.1, 54.0, 54.0, 54.2, 54.4, 54.6, 54.5,
  54.6, 54.4, 54.2, 54.3, 55.0, 54.7, 54.5, 54.3, 54.1, 54.1, 54.0, 54.8,
  54.8, 54.0, 54.6, 54.8, 54.7, 55.1, 55.4, 55.1, 55.0, 55.1, 55.0, 54.9,
  55.0, 55.0, 55.1, 55.2, 56.0, 56.0, 55.9, 55.7, 55.9, 56.4, 56.2, 56.1,
  56.5, 56.6, 56.8, 57.0, 56.8, 56.6, 56.5, 56.6, 56.5, 56.3, 56.7, 57.0,
  57.4, 57.6, 57.8, 57.9, 57.9, 58.0, 58.0, 58.1, 58.3, 58.5, 58.6, 58.8,
  58.9, 58.9, 59.0, 58.9, 59.0, 59.1, 59.0, 59.0, 59.1, 59.0, 59.0, 59.0,
  59.1, 59.0, 59.0, 59.1, 59.0, 59.0, 59.0, 59.0, 59.1, 59.5, 60.0, 60.2,
  59.8, 59.6, 59.9, 59.7, 60.0, 59.8, 60.1, 59.9, 60.0, 60.2, 60.6, 60.3,
  60.2, 60.0, 60.6, 60.3, 59.0, 59.1, 59.1, 59.1, 59.1, 59.0, 59.1, 59.2,
  59.2, 59.3, 59.3, 59.4, 59.4, 59.5, 60.2, 60.0, 59.5, 60.0, 59.5, 59.3,
  59.4, 60.8, 59.8, 63.0, 59.0, 59.2, 59.6, 59.1, 58.9, 58.9, 59.1, 59.3,
  59.5, 59.8, 59.9, 60.0, 60.0, 59.5, 59.6, 59.7, 59.7, 59.6, 59.7, 59.7,
  59.8, 59.7, 59.7, 59.5, 59.3, 59.2, 59.1, 59.2, 59.1, 58.9, 58.8, 58.6,
  58.5, 58.5, 58.4, 58.5, 58.7, 58.7, 58.5, 58.3, 58.1, 57.9, 58.0, 58.3,
  59.0, 58.6, 58.9, 58.6, 59.0, 58.7, 58.8, 59.0, 59.1, 57.7, 57.3, 57.1,
  57.1, 57.1, 57.0, 57.0, 56.9, 56.9, 56.9, 56.8, 56.9, 56.9, 57.0, 57.1,
  57.1, 57.2, 57.2, 57.3, 57.4, 57.4, 57.5, 57.6, 57.7, 57.8, 57.9, 57.9,
  58.0, 58.0, 58.1, 58.0, 58.0, 58.1, 58.0, 58.1, 58.2, 58.6, 59.2, 59.2,
  59.0, 59.5, 60.5, 58.8, 60.2, 63.0, 60.0, 59.6, 60.0, 60.3, 60.2, 60.4,
  59.4, 60.0, 60.3, 60.6, 60.3, 60.5, 59.8, 59.9, 59.7, 59.8, 59.4, 59.3,
  60.5, 59.5, 64.0, 61.0, 59.4, 59.3, 59.3, 59.3, 59.2, 59.3, 59.3, 59.3,
  59.3, 59.3, 59.4, 59.4, 59.5, 59.6, 59.9, 60.5, 62.0, 60.6, 60.9, 61.1,
  61.3, 61.5, 61.7, 62.0, 62.4, 62.8, 63.3, 64.4, 65.6, 67.5, 69.5, 70.8,
  71.4,
];
// 15 s maxima that stand out as thin spikes (minute of day, level)
const envSpikeT = [51, 79, 118, 128, 131, 189, 201, 211, 222, 227, 241, 256, 259, 346, 403, 471, 477, 483, 496, 501, 506, 511, 516, 522, 528, 533, 536, 538, 542, 547, 553, 559, 632, 639, 648, 658, 664, 673, 691, 731, 737, 742, 778, 788, 811, 831, 877, 899, 906, 911, 916, 921, 924, 929, 933, 936, 941, 951, 991, 1129, 1134, 1148, 1164, 1168, 1179, 1186, 1188, 1192, 1196, 1207, 1211, 1216, 1222, 1227, 1236, 1243, 1251, 1256, 1263, 1271, 1273, 1361, 1392, 1406, 1417, 1431];
const envSpikeV = [62.2, 64.1, 68.0, 63.6, 63.2, 62.6, 72.5, 62.0, 66.6, 66.6, 63.1, 64.6, 65.1, 64.1, 68.0, 70.0, 81.8, 82.0, 78.8, 84.2, 83.5, 92.4, 85.8, 92.4, 89.1, 73.9, 90.1, 90.1, 88.1, 81.8, 88.1, 90.1, 71.0, 88.4, 87.8, 72.5, 85.5, 79.8, 70.0, 88.1, 90.1, 92.4, 69.0, 68.5, 67.5, 66.6, 69.0, 88.6, 90.1, 90.1, 83.7, 89.1, 84.9, 87.6, 81.3, 85.7, 91.1, 70.5, 70.0, 72.9, 87.2, 89.6, 80.8, 87.6, 90.1, 90.1, 90.1, 80.8, 81.3, 88.1, 89.1, 86.7, 86.7, 80.8, 85.2, 80.8, 81.8, 74.9, 79.3, 80.3, 78.8, 79.8, 70.0, 72.0, 72.9, 73.9];

// ---------- helpers ----------
const X_TICK_VALUES = Array.from({ length: 49 }, (_, i) => i * 30);
const Y_TICK_VALUES = Array.from({ length: 29 }, (_, i) => 24 + i * 3);

function pts(vals: number[], offset: number, extraT: number[] = [], extraV: (number | null)[] = []) {
  const out: { x: number; y: number }[] = vals.map((v, i) => ({ x: offset + i * STEP, y: v }));
  extraT.forEach((t, i) => {
    const v = extraV[i];
    if (v !== null && v !== undefined) out.push({ x: t, y: v });
  });
  out.sort((a, b) => a.x - b.x);
  return out;
}

const isMajX = (c: any) => c && c.tick && c.tick.value % 120 === 0;
const isMajY = (c: any) => c && c.tick && c.tick.value % 12 === 0;

function xScale(labels: string[], height: number, titlePadBottom: number) {
  return {
    type: "linear",
    position: "bottom",
    min: 0,
    max: 1440,
    offset: false,
    afterBuildTicks: (s: any) => {
      s.ticks = X_TICK_VALUES.map((v) => ({ value: v }));
    },
    afterFit: (s: any) => {
      s.height = height;
    },
    ticks: {
      autoSkip: false,
      maxRotation: 0,
      minRotation: 0,
      padding: 3,
      color: "#222",
      font: { family: TICK_FONT, size: 8.5 },
      callback: (v: number) => (v % 120 === 0 && v < 1440 ? labels[v / 120] : ""),
    },
    grid: {
      offset: false,
      color: (c: any) => (isMajX(c) ? "#a9a9a9" : "#d2cbb6"),
      lineWidth: (c: any) => (isMajX(c) ? 1.2 : 0.8),
      tickLength: 6,
      tickColor: "#000",
      tickWidth: 1,
      tickBorderDash: (c: any) => (isMajX(c) ? [] : [3.5, 50]),
    },
    border: { display: false, dash: (c: any) => (isMajX(c) ? [] : [1.5, 2]) },
    title: {
      display: true,
      text: xTitle,
      color: "#000",
      font: { family: TEXT_FONT, size: 11 },
      padding: { top: 0, bottom: titlePadBottom },
    },
  };
}

function yScale(position: "left" | "right", width: number) {
  const left = position === "left";
  return {
    type: "linear",
    position,
    min: 24,
    max: 108,
    afterBuildTicks: (s: any) => {
      s.ticks = Y_TICK_VALUES.map((v) => ({ value: v }));
    },
    afterFit: (s: any) => {
      s.width = width;
    },
    ticks: {
      autoSkip: false,
      padding: 4,
      color: "#222",
      font: { family: TICK_FONT, size: 8.5 },
      callback: (v: number) => (yTickLabels.includes(v) ? String(v) : ""),
    },
    grid: {
      drawOnChartArea: left,
      color: (c: any) => (isMajY(c) ? "rgba(150,150,150,0.85)" : "#bdb8aa"),
      lineWidth: (c: any) => (isMajY(c) ? 1.5 : 0.8),
      tickLength: 7,
      tickColor: "#000",
      tickWidth: 1,
      tickBorderDash: (c: any) => (isMajY(c) ? [] : left ? [0, 3.5, 3.5, 0] : [3.5, 50]),
    },
    border: { display: false, dash: (c: any) => (isMajY(c) ? [] : [4, 2]) },
  };
}

const decoPlugin = {
  id: "deco",
  beforeDraw(chart: any) {
    const { ctx, chartArea: a } = chart;
    ctx.save();
    ctx.fillStyle = PLOT_BG;
    ctx.fillRect(a.left, a.top, a.right - a.left, a.bottom - a.top);
    ctx.restore();
  },
  afterDraw(chart: any, _args: any, opts: any) {
    const { ctx, chartArea: a } = chart;
    ctx.save();
    ctx.strokeStyle = "#000";
    ctx.lineWidth = 1.5;
    ctx.strokeRect(a.left, a.top, a.right - a.left, a.bottom - a.top);

    ctx.fillStyle = "#000";
    ctx.textBaseline = "middle";
    ctx.textAlign = "left";
    ctx.font = `bold 11.5px ${TEXT_FONT}`;
    ctx.fillText(opts.title, a.left, a.top - 13);

    ctx.font = `11px ${TEXT_FONT}`;
    ctx.textAlign = "center";
    for (const x of [18, 2381]) {
      ctx.save();
      ctx.translate(x, (a.top + a.bottom) / 2);
      ctx.rotate(-Math.PI / 2);
      ctx.fillText(yTitle, 0, 0);
      ctx.restore();
    }

    const lg = opts.legend;
    const x0 = a.right - 5 - lg.w;
    const y0 = a.bottom - 5 - lg.h;
    ctx.beginPath();
    ctx.roundRect(x0, y0, lg.w, lg.h, 3);
    ctx.fillStyle = "rgba(255,248,220,0.85)";
    ctx.fill();
    ctx.strokeStyle = "#dcc49c";
    ctx.lineWidth = 1;
    ctx.stroke();
    ctx.font = `10px ${TEXT_FONT}`;
    ctx.textAlign = "left";
    for (const it of lg.items) {
      const ds = chart.data.datasets[it.ds];
      const col = lg.cols[it.col];
      const y = y0 + lg.row0 + it.row * lg.rowDy;
      if (col.kind === "dot") {
        ctx.beginPath();
        ctx.arc(x0 + col.x0, y, 2.3, 0, Math.PI * 2);
        ctx.fillStyle = ds.backgroundColor;
        ctx.fill();
      } else {
        ctx.beginPath();
        ctx.moveTo(x0 + col.x0, y);
        ctx.lineTo(x0 + col.x1, y);
        ctx.strokeStyle = ds.borderColor;
        ctx.lineWidth = 3;
        ctx.stroke();
      }
      ctx.fillStyle = "#000";
      ctx.fillText(ds.label, x0 + col.textX, y + 0.5);
    }
    ctx.restore();
  },
};

function lineDs(label: string, color: string, data: any[], width: number, order: number) {
  return { label, data, showLine: true, borderColor: color, backgroundColor: color, borderWidth: width, pointRadius: 0, tension: 0, order, fill: false };
}
function dotDs(label: string, color: string, data: any[], order: number) {
  return { label, data, showLine: false, backgroundColor: color, borderColor: color, borderWidth: 0, pointRadius: 1.4, order };
}

// lower "order" is drawn later (on top): later-plotted series sit above earlier ones
function topConfig() {
  return {
    type: "scatter",
    data: {
      datasets: [
        dotDs("peak dB(Z)", "#3399ff", pts(peakZ, 2.5, outT, outZ), 6),
        dotDs("peak dB(C)", "#ff1fff", pts(peakC, 2.5, outT, outC), 5),
        dotDs("peak dB(A)", "#2e8b57", pts(peakA, 2.5, outT, outA), 4),
        lineDs("avg dB(Z)", "#4682b4", pts(avgZ, 0, spikeT, spikeZ), 1.5, 3),
        lineDs("avg dB(C)", "#da70d6", pts(avgC, 0, spikeT, spikeC), 1.5, 2),
        lineDs("avg dB(A)", "#9acd32", pts(avgA, 0, spikeT, spikeA), 1.5, 1),
      ],
    },
    options: {
      animation: false,
      responsive: false,
      devicePixelRatio: 1,
      events: [],
      layout: { padding: { left: 0, right: 0, top: 44, bottom: 0 } },
      scales: { x: xScale(topTickLabels, 44, 5), y: yScale("left", 59), y2: yScale("right", 57) },
      plugins: {
        legend: { display: false },
        tooltip: { enabled: false },
        deco: {
          title: topTitle,
          legend: {
            w: 182, h: 40, row0: 6.5, rowDy: 12,
            cols: [
              { kind: "dot", x0: 13, textX: 30 },
              { kind: "line", x0: 102, x1: 124, textX: 130 },
            ],
            items: [
              { ds: 0, col: 0, row: 0 }, { ds: 1, col: 0, row: 1 }, { ds: 2, col: 0, row: 2 },
              { ds: 3, col: 1, row: 0 }, { ds: 4, col: 1, row: 1 }, { ds: 5, col: 1, row: 2 },
            ],
          },
        },
      },
    },
    plugins: [decoPlugin],
  };
}

function bottomConfig() {
  const spikeBars = envSpikeT.map((t, i) => ({ x: t, y: [envMin[Math.round(t / STEP)], envSpikeV[i]] }));
  return {
    type: "scatter",
    data: {
      datasets: [
        {
          label: "envelope max",
          data: pts(envMax, 0),
          showLine: true,
          borderColor: "rgba(236,160,140,0.45)",
          backgroundColor: "rgba(240,170,150,0.3)",
          borderWidth: 1,
          pointRadius: 0,
          fill: "+1",
          order: 5,
        },
        {
          label: "envelope min",
          data: pts(envMin, 0),
          showLine: true,
          borderColor: "rgba(236,160,140,0.3)",
          borderWidth: 0.5,
          pointRadius: 0,
          fill: false,
          order: 5,
        },
        lineDs("dB(Z)", "#dc143c", pts(lvlZ, 0), 1.6, 3),
        lineDs("dB(C)", "#ff8c00", pts(lvlC, 0), 1.6, 2),
        lineDs("dB(A)", "#ffd700", pts(lvlA, 0), 1.6, 1),
        {
          type: "bar",
          label: "envelope spikes",
          data: spikeBars,
          backgroundColor: "rgba(240,170,150,0.5)",
          borderWidth: 0,
          barThickness: 2,
          grouped: false,
          order: 6,
        },
      ],
    },
    options: {
      animation: false,
      responsive: false,
      devicePixelRatio: 1,
      events: [],
      layout: { padding: { left: 0, right: 0, top: 25, bottom: 0 } },
      scales: { x: xScale(bottomTickLabels, 51, 12), y: yScale("left", 59), y2: yScale("right", 57) },
      plugins: {
        legend: { display: false },
        tooltip: { enabled: false },
        deco: {
          title: bottomTitle,
          legend: {
            w: 61, h: 41, row0: 8.5, rowDy: 11.7,
            cols: [{ kind: "line", x0: 2, x1: 24, textX: 31 }],
            items: [
              { ds: 2, col: 0, row: 0 }, { ds: 3, col: 0, row: 1 }, { ds: 4, col: 0, row: 2 },
            ],
          },
        },
      },
    },
    plugins: [decoPlugin],
  };
}

function ChartCanvas({ make, top, height }: { make: () => any; top: number; height: number }) {
  const ref = useRef<HTMLCanvasElement>(null);
  useEffect(() => {
    const chart = new Chart(ref.current as HTMLCanvasElement, make());
    return () => chart.destroy();
  }, []);
  return (
    <canvas
      ref={ref}
      width={2400}
      height={height}
      style={{ position: "absolute", left: 0, top, width: 2400, height }}
    />
  );
}

export default function App() {
  return (
    <div style={{ position: "fixed", left: 0, top: 0, width: 2400, height: 1200, background: "#fff", overflow: "hidden" }}>
      <div
        style={{
          position: "absolute",
          left: 24,
          top: 10,
          font: `bold 13.7px ${TEXT_FONT}`,
          lineHeight: "16px",
          color: "#000",
          whiteSpace: "pre",
        }}
      >
        {headerLines.map((l) => (
          <div key={l}>{l}</div>
        ))}
      </div>
      <ChartCanvas make={topConfig} top={40} height={592} />
      <ChartCanvas make={bottomConfig} top={620} height={580} />
    </div>
  );
}
